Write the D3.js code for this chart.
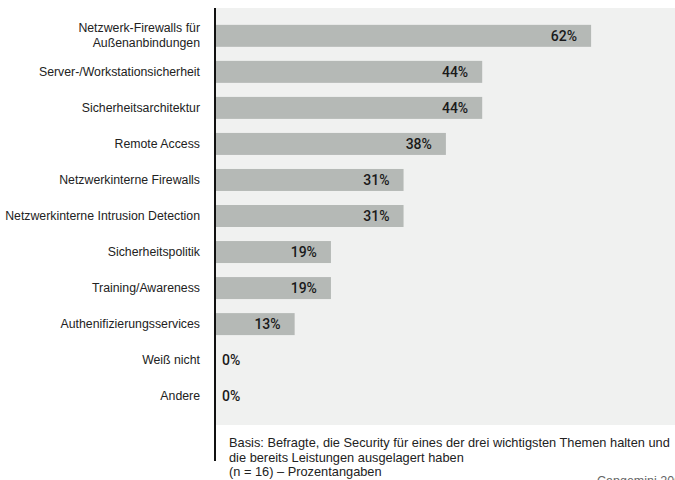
<!DOCTYPE html>
<html><head><meta charset="utf-8">
<script src="https://cdn.jsdelivr.net/npm/d3@7"></script>
<style>body{margin:0;background:#fff}svg{display:block}</style>
</head><body>
<svg id="c" width="675" height="480"></svg>
<script>
const categories = [
  ["Netzwerk-Firewalls für", "Außenanbindungen"],
  ["Server-/Workstationsicherheit"],
  ["Sicherheitsarchitektur"],
  ["Remote Access"],
  ["Netzwerkinterne Firewalls"],
  ["Netzwerkinterne Intrusion Detection"],
  ["Sicherheitspolitik"],
  ["Training/Awareness"],
  ["Authenifizierungsservices"],
  ["Weiß nicht"],
  ["Andere"]
];
const values = [62, 44, 44, 38, 31, 31, 19, 19, 13, 0, 0];
const captionLines = [
  "Basis: Befragte, die Security für eines der drei wichtigsten Themen halten  und",
  "die bereits Leistungen ausgelagert haben",
  "(n = 16) – Prozentangaben"
];
const sourceText = "Capgemini 2003";

const svg = d3.select("#c");
const font = "'Liberation Sans', Arial, Helvetica, sans-serif";
const x0 = 216;
const x = d3.scaleLinear().domain([0, 100]).range([x0, x0 + 605]);
const y = d3.scaleBand().domain(d3.range(categories.length)).range([18, 414]).paddingInner(0.39).paddingOuter(0.19);

// panel
svg.append("rect").attr("x", x0).attr("y", 8).attr("width", 675 - x0).attr("height", 417).attr("fill", "#f0f1f0");

// bars
svg.selectAll("rect.bar").data(values).join("rect").attr("class", "bar")
  .attr("x", x(0)).attr("y", (d, i) => y(i)).attr("height", y.bandwidth())
  .attr("width", d => x(d) - x(0)).attr("fill", "#b5b9b6");

// value labels
svg.selectAll("text.val").data(values).join("text").attr("class", "val")
  .attr("x", d => d > 0 ? x(d) - 14 : x(0) + 6)
  .attr("y", (d, i) => y(i) + y.bandwidth() / 2 + 5)
  .attr("text-anchor", d => d > 0 ? "end" : "start")
  .attr("font-family", "Roboto, 'Liberation Sans', Arial, sans-serif").attr("font-size", 14).attr("font-weight", 500)
  .attr("fill", "#1a1a1a").text(d => d + "%");

// category labels
const cg = svg.selectAll("text.cat").data(categories).join("text").attr("class", "cat")
  .attr("text-anchor", "end").attr("font-family", font).attr("font-size", 12.3).attr("fill", "#222");
cg.each(function(lines, i) {
  const t = d3.select(this);
  const cy = y(i) + y.bandwidth() / 2;
  const n = lines.length;
  lines.forEach((l, k) => {
    t.append("tspan").attr("x", 200).attr("y", cy + 4 + (k - (n - 1) / 2) * 15).text(l);
  });
});

// axis line
svg.append("line").attr("x1", 215).attr("x2", 215).attr("y1", 8).attr("y2", 461)
  .attr("stroke", "#111").attr("stroke-width", 2);

// caption
svg.append("text").attr("font-family", font).attr("font-size", 12.8).attr("fill", "#222")
  .selectAll("tspan").data(captionLines).join("tspan")
  .attr("x", 229).attr("y", (d, i) => 447 + i * 14.5).text(d => d);

svg.append("text").attr("x", 597).attr("y", 485).attr("font-family", font)
  .attr("font-size", 12.5).attr("fill", "#666").text(sourceText);
</script>
</body></html>
